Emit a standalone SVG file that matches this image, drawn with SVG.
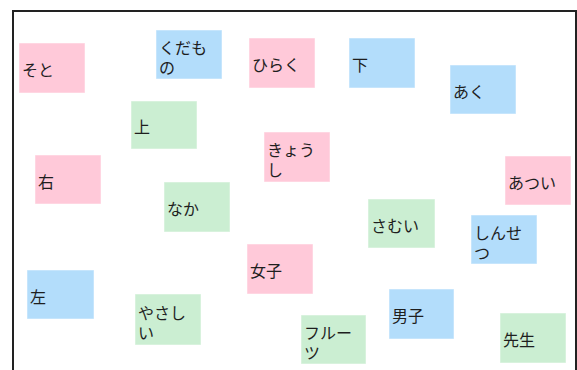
<svg xmlns="http://www.w3.org/2000/svg" width="577" height="370" viewBox="0 0 577 370">
<style>
.n rect{stroke:#ffffff;stroke-opacity:0.5;stroke-width:1}
.p rect{fill:#ffc9d9}
.b rect{fill:#b3ddfb}
.g rect{fill:#cbeed2}
text{font-family:"Noto Sans CJK JP","Noto Sans",sans-serif;font-size:16px;fill:#1e1e1e;dominant-baseline:central}
</style>
<rect x="0" y="0" width="577" height="370" fill="#ffffff"/>
<rect x="13" y="11" width="563" height="400" fill="none" stroke="#222" stroke-width="2"/>
<g id="connectors"/>
<g id="n-soto" class="n p"><rect x="19" y="43" width="66" height="50"/><text x="22" y="69">そと</text></g>
<g id="n-kudamono" class="n b"><rect x="156" y="30" width="66" height="49"/><text x="159" y="46.5">くだも<tspan x="159" dy="20">の</tspan></text></g>
<g id="n-hiraku" class="n p"><rect x="249" y="38" width="66" height="50"/><text x="252" y="64">ひらく</text></g>
<g id="n-shita" class="n b"><rect x="349" y="38" width="66" height="50"/><text x="352" y="64">下</text></g>
<g id="n-aku" class="n b"><rect x="450" y="65" width="66" height="49"/><text x="453" y="90.5">あく</text></g>
<g id="n-ue" class="n g"><rect x="131" y="101" width="66" height="48"/><text x="134" y="126">上</text></g>
<g id="n-kyoushi" class="n p"><rect x="264" y="132" width="66" height="50"/><text x="267" y="149">きょう<tspan x="267" dy="20">し</tspan></text></g>
<g id="n-migi" class="n p"><rect x="35" y="155" width="66" height="49"/><text x="38" y="180.5">右</text></g>
<g id="n-atsui" class="n p"><rect x="505" y="156" width="66" height="49"/><text x="508" y="181.5">あつい</text></g>
<g id="n-naka" class="n g"><rect x="164" y="182" width="66" height="50"/><text x="167" y="208">なか</text></g>
<g id="n-samui" class="n g"><rect x="368" y="199" width="67" height="49"/><text x="371" y="224.5">さむい</text></g>
<g id="n-shinsetsu" class="n b"><rect x="471" y="215" width="66" height="49"/><text x="474" y="231.5">しんせ<tspan x="474" dy="20">つ</tspan></text></g>
<g id="n-joshi" class="n p"><rect x="247" y="244" width="66" height="50"/><text x="250" y="270">女子</text></g>
<g id="n-hidari" class="n b"><rect x="27" y="270" width="67" height="49"/><text x="30" y="295.5">左</text></g>
<g id="n-danshi" class="n b"><rect x="389" y="289" width="65" height="50"/><text x="392" y="315">男子</text></g>
<g id="n-yasashii" class="n g"><rect x="135" y="294" width="66" height="51"/><text x="138" y="311.5">やさし<tspan x="138" dy="20">い</tspan></text></g>
<g id="n-sensei" class="n g"><rect x="500" y="313" width="66" height="50"/><text x="503" y="339">先生</text></g>
<g id="n-furutsu" class="n g"><rect x="301" y="315" width="65" height="49"/><text x="304" y="331.5">フルー<tspan x="304" dy="20">ツ</tspan></text></g>
</svg>
